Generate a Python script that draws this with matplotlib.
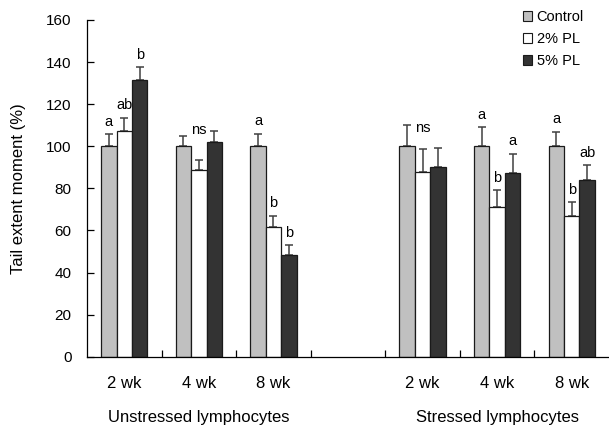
"""Tail extent moment bar chart, unstressed vs stressed lymphocytes."""

import matplotlib
matplotlib.use("Agg")
import matplotlib.pyplot as plt
from matplotlib.patches import Patch

plt.rcParams["font.family"] = ["Liberation Sans", "DejaVu Sans"]

weeks = ["2 wk", "4 wk", "8 wk", "2 wk", "4 wk", "8 wk"]
panels = ["Unstressed lymphocytes", "Stressed lymphocytes"]
series = ["Control", "2% PL", "5% PL"]

control = [100, 100, 100, 100, 100, 100]
pl2 = [107.1, 88.6, 61.4, 88.0, 71.1, 67.0]
pl5 = [131.6, 102.1, 48.4, 90.3, 87.5, 84.0]

control_err = [5.6, 4.9, 6.0, 10.0, 9.0, 7.0]
pl2_err = [6.4, 5.1, 5.6, 10.6, 7.9, 6.5]
pl5_err = [6.0, 5.0, 4.5, 8.9, 8.9, 6.9]

# significance letters per bar; "ns" marks the whole group
control_sig = ["a", "", "a", "", "a", "a"]
pl2_sig = ["ab", "ns", "b", "ns", "b", "b"]
pl5_sig = ["b", "", "b", "", "a", "ab"]

colors = ["#c0c0c0", "#ffffff", "#333333"]

fig = plt.figure(figsize=(6.09, 4.28), dpi=100)
ax = fig.add_axes([0.1429, 0.1666, 0.8571, 0.7867])

centers = [0.5, 1.5, 2.5, 4.5, 5.5, 6.5]
width = 0.207
values = [control, pl2, pl5]
errs = [control_err, pl2_err, pl5_err]
sigs = [control_sig, pl2_sig, pl5_sig]

tops = []
for k in range(3):
    xs = [c + (k - 1) * width for c in centers]
    ax.bar(xs, values[k], width, color=colors[k], edgecolor="#1a1a1a",
           linewidth=0.9, zorder=2)
    ax.errorbar(xs, values[k], yerr=[[0] * len(xs), errs[k]], fmt="none",
                ecolor="#404040", elinewidth=1.1, capsize=2.7, capthick=1.1,
                zorder=1)
    tops.append([v + e for v, e in zip(values[k], errs[k])])

for k in range(3):
    for i, c in enumerate(centers):
        label = sigs[k][i]
        if not label:
            continue
        x = c + (k - 1) * width
        if label == "ns":
            y = sum(t[i] for t in tops) / 3 + 4
        else:
            y = tops[k][i] + 4
        ax.text(x, y, label, ha="center", va="baseline", fontsize=10.5)

ax.set_xlim(0, 7)
ax.set_ylim(0, 160)
ax.set_yticks(range(0, 161, 20))
ax.set_xticks([1, 2, 3, 4, 5, 6])
ax.set_xticklabels([])
ax.tick_params(axis="x", direction="in", length=5, width=0.9)
ax.tick_params(axis="y", direction="in", length=5, width=0.9, labelsize=11,
               pad=11)
for side in ("top", "right"):
    ax.spines[side].set_visible(False)
for side in ("left", "bottom"):
    ax.spines[side].set_linewidth(0.9)

for c, w in zip(centers, weeks):
    ax.text(c, -0.093, w, transform=ax.get_xaxis_transform(), ha="center",
            va="baseline", fontsize=12)
ax.text(1.5, -0.193, panels[0], transform=ax.get_xaxis_transform(),
        ha="center", va="baseline", fontsize=12)
ax.text(5.5, -0.193, panels[1], transform=ax.get_xaxis_transform(),
        ha="center", va="baseline", fontsize=12)

ax.set_ylabel("Tail extent moment (%)", fontsize=12)
ax.yaxis.set_label_coords(-0.117, 0.5)

handles = [Patch(facecolor=col, edgecolor="#1a1a1a", linewidth=0.8, label=s)
           for col, s in zip(colors, series)]
ax.legend(handles=handles, loc="upper left", bbox_to_anchor=(0.859, 0.976),
          bbox_transform=fig.transFigure, frameon=False, fontsize=10.5,
          handlelength=0.62, handleheight=0.62, handletextpad=0.3,
          labelspacing=0.55, borderaxespad=0, borderpad=0)

fig.savefig("out.png", dpi=100)
